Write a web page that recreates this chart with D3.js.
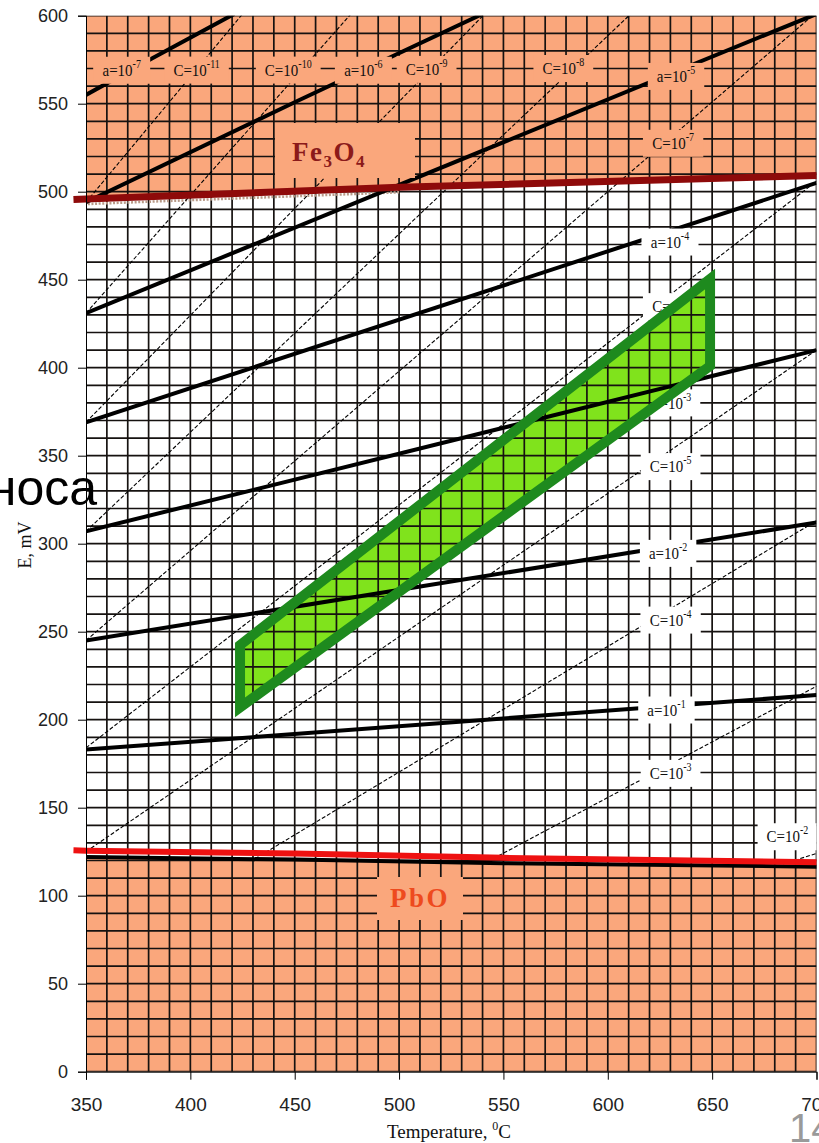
<!DOCTYPE html>
<html><head><meta charset="utf-8">
<script src="https://cdn.jsdelivr.net/npm/d3@7"></script>
<style>body{margin:0;background:#fff;} svg{display:block;}</style>
</head><body>
<svg id="c" width="819" height="1143"></svg>
<script>
// ---------- data ----------
const xTicks = [350,400,450,500,550,600,650,700];
const yTicks = [0,50,100,150,200,250,300,350,400,450,500,550,600];

// thick lines: constant activity a = 10^exp, points [T, E]
const aExp = ["-1","-2","-3","-4","-5","-6","-7"];
const aPoints = [
  [[350,183],[700,214]],
  [[350,245],[700,312]],
  [[350,307],[700,410]],
  [[350,369],[700,505]],
  [[350,431],[700,601]],
  [[350,494],[452,552],[540,601]],
  [[350,555],[382,576],[421,601]]
];
const aLabelPos = [[628.1,205.5],[628.9,294.5],[630.8,380],[629.8,471.4],[632.7,565.5],[482.9,569],[367.1,569]];

// thin dashed lines: C = 10^exp
const cExp = ["-2","-3","-4","-5","-6","-7","-8","-9","-10","-11"];
const cPoints = [
  [[684,118],[700,124]],
  [[545,121],[700,219]],
  [[431,121],[700,313]],
  [[350,125],[700,410]],
  [[350,184],[700,506]],
  [[350,245],[700,602]],
  [[350,307],[611,601]],
  [[350,369],[541,601]],
  [[350,431],[477,601]],
  [[350,494],[425,601]]
];
const cLabelPos = [[686.1,133.5],[630.1,169.5],[630.1,256.6],[630.1,343.8],[631.3,434.7],[631.3,527.5],[578.7,570],[513.2,569.5],[446.9,569.1],[403,569.1]];

// phase boundaries
const feLine  = [[344,495.5],[350,495.8],[500,502.5],[700,509.2]];
const pbRed   = [[344,125.8],[350,125.6],[450,124],[550,121.5],[700,119]];
const pbBlack = [[350,122],[450,120.5],[550,118.5],[700,116.5]];
// highlighted zone
const greenBox = [[423.8,242.4],[649,450.4],[649,401],[423.8,207]];

// ---------- drawing ----------
const ORANGE = "#FAA77C";
const svg = d3.select("#c");
const x = d3.scaleLinear().domain([350,700]).range([86,816.5]);
const y = d3.scaleLinear().domain([0,600]).range([1071.7,15.7]);
const line = d3.line().x(d=>x(d[0])).y(d=>y(d[1]));

const defs = svg.append("defs");
defs.append("clipPath").attr("id","plot").append("rect")
  .attr("x",x(350)).attr("y",y(600)).attr("width",x(700)-x(350)).attr("height",y(0)-y(600));
defs.append("clipPath").attr("id","green").append("path").attr("d", line(greenBox)+"Z");

svg.append("rect").attr("width",819).attr("height",1143).attr("fill","#fff");

const plot = svg.append("g").attr("clip-path","url(#plot)");
// orange phase regions
plot.append("path").datum(feLine)
  .attr("d", d3.area().x(d=>x(d[0])).y0(y(600)).y1(d=>y(d[1])))
  .attr("fill", ORANGE);
plot.append("path").datum(pbBlack)
  .attr("d", d3.area().x(d=>x(d[0])).y0(y(0)).y1(d=>y(d[1])))
  .attr("fill", ORANGE);

function drawGrid(g){
  g.selectAll(null).data(d3.range(350,701,10)).join("line")
    .attr("x1",d=>x(d)).attr("x2",d=>x(d)).attr("y1",y(600)).attr("y2",y(0))
    .attr("stroke","#161210").attr("stroke-width",1.7);
  g.selectAll(null).data(d3.range(0,601,10)).join("line")
    .attr("y1",d=>y(d)).attr("y2",d=>y(d)).attr("x1",x(350)).attr("x2",x(700))
    .attr("stroke","#161210").attr("stroke-width",1.7);
}
drawGrid(plot.append("g"));

// dotted band under the Fe3O4 boundary
plot.append("path").datum(feLine.filter(d=>d[0]<=500))
  .attr("d", line).attr("transform","translate(0,5)")
  .attr("fill","none").attr("stroke","#b89a88").attr("stroke-width",2.5).attr("stroke-dasharray","2,1.6");

// thin C lines
plot.append("g").selectAll("path").data(cPoints).join("path")
  .attr("d", line).attr("fill","none").attr("stroke","#000")
  .attr("stroke-width",1.1).attr("stroke-dasharray","4,2");
// thick a lines
function drawThick(g){
  g.selectAll(null).data(aPoints).join("path")
    .attr("d", line).attr("fill","none").attr("stroke","#000").attr("stroke-width",4);
}
drawThick(plot.append("g"));

// labels with background boxes
const feAt = d3.scaleLinear().domain(feLine.map(d=>d[0])).range(feLine.map(d=>d[1]));
const labG = svg.append("g").attr("clip-path","url(#plot)");
function addLabel(prefix, exp, pos){
  const cx = x(pos[0]), cy = y(pos[1]);
  const g = labG.append("g").attr("transform",`translate(${cx},${cy})`);
  const rect = g.append("rect");
  const t = g.append("text").attr("transform","scale(1,1.15)").attr("y",5)
    .attr("text-anchor","middle").attr("font-family","'Liberation Serif','Times New Roman',serif")
    .attr("font-size",15).attr("fill","#111");
  t.append("tspan").text(prefix+"=10");
  t.append("tspan").attr("font-size",10).attr("dy",-7).text(exp);
  const bb = t.node().getBBox();
  const w = bb.width + 18, h = 27;
  const fill = pos[1] > feAt(pos[0]) ? ORANGE : "#fff";
  rect.attr("x",-w/2).attr("y",-h/2).attr("width",w).attr("height",h).attr("fill",fill);
}
aExp.forEach((e,i)=>addLabel("a", e, aLabelPos[i]));
cExp.forEach((e,i)=>addLabel("C", e, cLabelPos[i]));

// green zone: fill, grid + thick lines visible through it, border
svg.append("path").attr("d", line(greenBox)+"Z").attr("fill","#80E31C");
const gIn = svg.append("g").attr("clip-path","url(#green)");
drawGrid(gIn.append("g"));
drawThick(gIn.append("g"));
svg.append("path").attr("d", line(greenBox)+"Z").attr("fill","none")
  .attr("stroke","#1E8A1E").attr("stroke-width",10).attr("stroke-linejoin","miter");

// phase boundary lines
svg.append("path").datum(pbBlack).attr("d",line).attr("fill","none").attr("stroke","#000").attr("stroke-width",4);
svg.append("path").datum(pbRed).attr("d",line).attr("fill","none").attr("stroke","#EE1111").attr("stroke-width",6);
svg.append("path").datum(feLine).attr("d",line).attr("fill","none").attr("stroke","#8E0A0A").attr("stroke-width",7);

// phase labels
svg.append("rect").attr("x",275).attr("y",123).attr("width",140).attr("height",55).attr("fill",ORANGE);
const fe = svg.append("text").attr("x",292).attr("y",161)
  .attr("font-family","'Liberation Serif','Times New Roman',serif").attr("font-weight","bold")
  .attr("font-size",27).attr("fill","#8B1A1A").attr("letter-spacing",1.5);
fe.append("tspan").text("Fe");
fe.append("tspan").attr("font-size",17).attr("dy",6).text("3");
fe.append("tspan").attr("dy",-6).text("O");
fe.append("tspan").attr("font-size",17).attr("dy",6).text("4");

svg.append("rect").attr("x",377).attr("y",877).attr("width",86).attr("height",43).attr("fill",ORANGE);
svg.append("text").attr("x",390).attr("y",907)
  .attr("font-family","'Liberation Serif','Times New Roman',serif").attr("font-weight","bold")
  .attr("font-size",27).attr("fill","#EE4A1E").attr("letter-spacing",2.5).text("PbO");

// axes
const axL = svg.append("g").attr("transform",`translate(${x(350)},0)`)
  .call(d3.axisLeft(y).tickValues(yTicks).tickSize(8).tickPadding(10).tickFormat(d3.format("d")));
const axB = svg.append("g").attr("transform",`translate(0,${y(0)})`)
  .call(d3.axisBottom(x).tickValues(xTicks).tickSize(8).tickPadding(18).tickFormat(d3.format("d")));
[axL,axB].forEach(a=>{
  a.select(".domain").attr("stroke","#000");
  a.selectAll(".tick line").attr("stroke","#000");
  a.selectAll("text").attr("font-family","'Liberation Sans',Arial,sans-serif").attr("fill","#222");
});
axL.selectAll("text").attr("font-size",18);
axB.selectAll("text").attr("font-size",19);

// axis titles
const xt = svg.append("text").attr("x",449).attr("y",1138).attr("text-anchor","middle")
  .attr("font-family","'Liberation Serif','Times New Roman',serif").attr("font-size",19).attr("fill","#111");
xt.append("tspan").text("Temperature, ");
xt.append("tspan").attr("font-size",12).attr("dy",-8).text("0");
xt.append("tspan").attr("dy",8).text("C");
svg.append("text").attr("transform","translate(31,545) rotate(-90)").attr("text-anchor","middle")
  .attr("font-family","'Liberation Serif','Times New Roman',serif").attr("font-size",18).attr("fill","#111")
  .text("E, mV");

// slide overlays
svg.append("text").attr("x",97).attr("y",505).attr("text-anchor","end")
  .attr("font-family","'Liberation Sans',Arial,sans-serif").attr("font-size",50).attr("fill","#000").text("носа");
svg.append("text").attr("x",789).attr("y",1142)
  .attr("font-family","'Liberation Sans',Arial,sans-serif").attr("font-size",40).attr("fill","#9a9a9a").text("14");
</script>
</body></html>
